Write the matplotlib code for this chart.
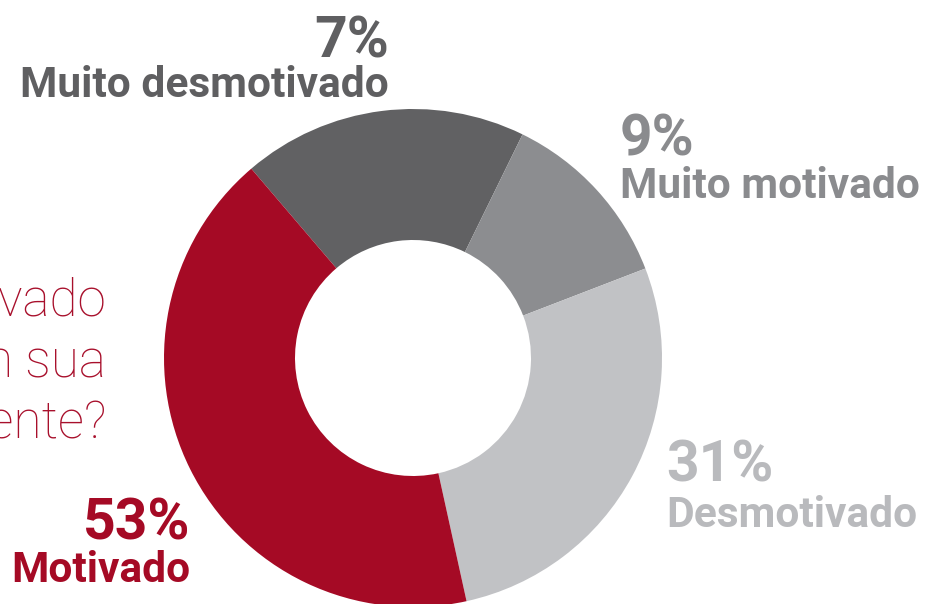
import matplotlib
matplotlib.use("Agg")
import matplotlib.pyplot as plt

# ---- data ----
categories = ["Muito desmotivado", "Muito motivado", "Desmotivado", "Motivado"]
# wedge shares as drawn in the picture (degrees converted to %)
shares = [18.5, 11.9, 27.4, 42.2]
# percentages printed on the labels
label_pct = [7, 9, 31, 53]
colors = ["#616163", "#8c8d90", "#c1c2c5", "#a50a25"]
text_colors = ["#5f5f61", "#8a8b8e", "#b9babd", "#a50a25"]
question_lines = ["Quão motivado", "você está em sua", "carreira atualmente?"]

W, H = 926, 604
fig = plt.figure(figsize=(W / 100, H / 100), dpi=100)
ax = fig.add_axes([0, 0, 1, 1])

cx, cy, R = 413, 358, 249
ax.pie(shares, colors=colors, startangle=130.5, counterclock=False,
       center=(cx, H - cy), radius=R,
       wedgeprops=dict(width=R - 118, linewidth=0))
ax.set_xlim(0, W)
ax.set_ylim(0, H)
ax.set_aspect("equal")
ax.axis("off")

font = "Roboto"
# (x, baseline_y for pct, baseline_y for name, ha)
layout = [
    (389, 57, 97, "right"),
    (620, 155, 198, "left"),
    (666, 482, 527, "left"),
    (190, 540, 582, "right"),
]
for (x, yp, yn, ha), cat, pct, tc in zip(layout, categories, label_pct, text_colors):
    ax.text(x, H - yp, f"{pct}%", ha=ha, va="baseline", fontsize=41,
            fontweight="bold", family=font, color=tc)
    ax.text(x, H - yn, cat, ha=ha, va="baseline", fontsize=30.6,
            fontweight="bold", family=font, color=tc)

for i, line in enumerate(question_lines):
    ax.text(106, H - (315 + 61.5 * i), line, ha="right", va="baseline",
            fontsize=37, fontweight="light", family=font, color="#a8102c")

fig.savefig("out.png", dpi=100)
